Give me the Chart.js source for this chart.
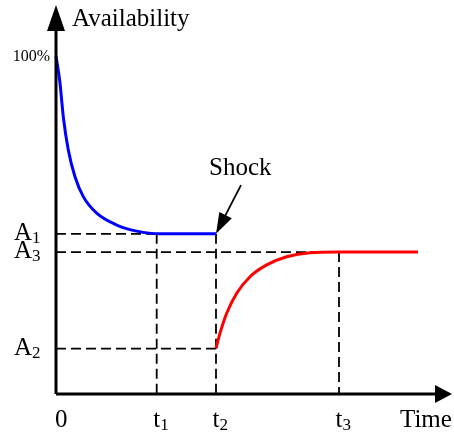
<!DOCTYPE html>
<html>
<head>
<meta charset="utf-8">
<script src="https://cdn.jsdelivr.net/npm/chart.js@4.4.0/dist/chart.umd.min.js"></script>
<style>
  html, body { margin: 0; padding: 0; background: #fff; }
  #wrap { width: 454px; height: 437px; position: relative; }
</style>
</head>
<body>
<div id="wrap"><canvas id="availChart"></canvas></div>
<script>
// curve before the shock (blue) and recovery after it (red)
const blueTime = [0, 0.4, 0.73, 1.23, 1.9, 2.73, 4.07, 6.07, 8.07, 10.4, 16];
const blueAvail = [100, 92.0, 82.0, 72.2, 64.3, 58.4, 53.5, 50.0, 48.2, 47.4, 47.4];
const redTime = [16, 16.4, 17.07, 18.07, 19.4, 21.07, 23.07, 25.4, 28.07, 36.2];
const redAvail = [13.5, 18.0, 23.9, 29.8, 34.7, 38.2, 40.6, 41.8, 42.0, 42.0];

// reference levels and times
const levelNames = ["A1", "A2", "A3"];
const levelValues = [47.4, 13.4, 42.0];
const timeNames = ["t1", "t2", "t3"];
const timeValues = [10.07, 16, 28.3];
const xMax = 39.6;
const yMax = 115.1;

function toPoints(xs, ys) {
    return xs.map(function (x, i) { return { x: x, y: ys[i] }; });
}

function dashed(points) {
    return {
        data: points,
        borderColor: "#000",
        borderWidth: 1.8,
        borderDash: [10, 5],
        pointRadius: 0,
        tension: 0,
        clip: false
    };
}

const A1 = levelValues[0], A2 = levelValues[1], A3 = levelValues[2];
const t1 = timeValues[0], t2 = timeValues[1], t3 = timeValues[2];

const datasets = [
    { data: toPoints(blueTime, blueAvail), borderColor: "#0000ff", borderWidth: 3, pointRadius: 0, cubicInterpolationMode: "monotone", clip: false },
    { data: toPoints(redTime, redAvail), borderColor: "#ff0000", borderWidth: 3, pointRadius: 0, cubicInterpolationMode: "monotone", clip: false },
    dashed([{ x: 0, y: A1 }, { x: t2, y: A1 }]),
    dashed([{ x: 0, y: A3 }, { x: t3, y: A3 }]),
    dashed([{ x: 0, y: A2 }, { x: t2, y: A2 }]),
    dashed([{ x: t1, y: A1 }, { x: t1, y: 0 }]),
    dashed([{ x: t2, y: A1 }, { x: t2, y: 0 }]),
    dashed([{ x: t3, y: A3 }, { x: t3, y: 0 }])
];

const serif = '"Liberation Serif", "Times New Roman", serif';

function subLabel(ctx, main, sub, x, y, align) {
    ctx.font = "25px " + serif;
    const w1 = ctx.measureText(main).width;
    let left = x;
    if (align === "center-main") left = x - w1 / 2;
    ctx.fillText(main, left, y);
    ctx.font = "17px " + serif;
    ctx.fillText(sub, left + w1, y + 3);
}

function arrowHead(ctx, fromX, fromY, toX, toY, len, half) {
    const ang = Math.atan2(toY - fromY, toX - fromX);
    ctx.beginPath();
    ctx.moveTo(toX, toY);
    ctx.lineTo(toX - len * Math.cos(ang) + half * Math.sin(ang), toY - len * Math.sin(ang) - half * Math.cos(ang));
    ctx.lineTo(toX - len * Math.cos(ang) - half * Math.sin(ang), toY - len * Math.sin(ang) + half * Math.cos(ang));
    ctx.closePath();
    ctx.fill();
}

const annotate = {
    id: "annotate",
    afterDraw: function (chart) {
        const ctx = chart.ctx;
        const xs = chart.scales.x, ys = chart.scales.y;
        const x0 = xs.getPixelForValue(0), y0 = ys.getPixelForValue(0);
        const xEnd = xs.getPixelForValue(xMax), yEnd = ys.getPixelForValue(yMax);
        ctx.save();
        ctx.strokeStyle = "#000";
        ctx.fillStyle = "#000";
        ctx.lineWidth = 3;
        ctx.setLineDash([]);
        // axes
        ctx.beginPath();
        ctx.moveTo(x0, y0);
        ctx.lineTo(xEnd - 10, y0);
        ctx.moveTo(x0, y0);
        ctx.lineTo(x0, yEnd + 10);
        ctx.stroke();
        arrowHead(ctx, x0, y0, xEnd, y0, 17, 9);
        arrowHead(ctx, x0, y0, x0, yEnd, 26, 9);

        // shock arrow
        const sx = xs.getPixelForValue(18.5), sy = ys.getPixelForValue(61.8);
        const tx = xs.getPixelForValue(t2), ty = ys.getPixelForValue(A1);
        ctx.lineWidth = 1.8;
        ctx.beginPath();
        ctx.moveTo(sx, sy);
        ctx.lineTo(tx + 6, ty - 12);
        ctx.stroke();
        arrowHead(ctx, sx, sy, tx, ty, 21, 7);

        // texts
        ctx.textBaseline = "alphabetic";
        ctx.textAlign = "left";
        ctx.font = "25px " + serif;
        ctx.fillText("Availability", 72, 26);
        ctx.fillText("Shock", 209, 175);
        ctx.fillText("Time", 400, 427);
        ctx.fillText("0", x0 - 1, 427);
        ctx.font = "16px " + serif;
        ctx.textAlign = "right";
        ctx.fillText("100%", x0 - 6, ys.getPixelForValue(100) + 5);
        ctx.textAlign = "left";
        levelNames.forEach(function (name, i) {
            subLabel(ctx, name[0], name.slice(1), 14, ys.getPixelForValue(levelValues[i]) + 6, "left");
        });
        timeNames.forEach(function (name, i) {
            subLabel(ctx, name[0], name.slice(1), xs.getPixelForValue(timeValues[i]), 427, "center-main");
        });
        ctx.restore();
    }
};

new Chart(document.getElementById("availChart"), {
    type: "line",
    data: { datasets: datasets },
    options: {
        responsive: true,
        maintainAspectRatio: false,
        animation: false,
        layout: { padding: { left: 56, right: 2, top: 5, bottom: 43 } },
        plugins: { legend: { display: false }, tooltip: { enabled: false } },
        scales: {
            x: { type: "linear", min: 0, max: xMax, display: false },
            y: { type: "linear", min: 0, max: yMax, display: false }
        }
    },
    plugins: [annotate]
});
</script>
</body>
</html>
